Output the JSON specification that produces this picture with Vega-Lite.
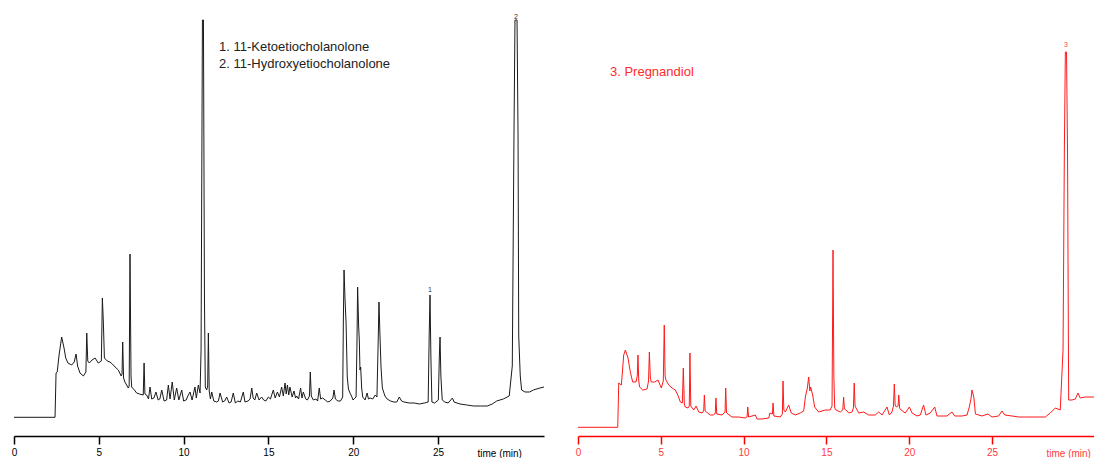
{
  "$schema": "https://vega.github.io/schema/vega-lite/v6.json",
  "padding": {"left": 11, "top": 6, "right": 0, "bottom": 0},
  "background": "white",
  "spacing": 29,
  "config": {"view": {"stroke": null}, "axis": {"grid": false}, "font": "Liberation Sans"},
  "datasets": {
    "left": [
      {"t": 0, "s": 18.7}, {"t": 2.42, "s": 18.7}, {"t": 2.48, "s": 63}, {"t": 2.55, "s": 64}, {"t": 2.65, "s": 80},
      {"t": 2.81, "s": 99}, {"t": 2.95, "s": 88}, {"t": 3.05, "s": 78}, {"t": 3.18, "s": 73}, {"t": 3.4, "s": 71},
      {"t": 3.55, "s": 74}, {"t": 3.66, "s": 82}, {"t": 3.75, "s": 70}, {"t": 3.89, "s": 63}, {"t": 4.09, "s": 60},
      {"t": 4.24, "s": 64}, {"t": 4.29, "s": 103}, {"t": 4.35, "s": 75}, {"t": 4.44, "s": 73}, {"t": 4.6, "s": 76},
      {"t": 4.78, "s": 78}, {"t": 4.97, "s": 73}, {"t": 5.15, "s": 75}, {"t": 5.21, "s": 138}, {"t": 5.27, "s": 113},
      {"t": 5.33, "s": 78}, {"t": 5.5, "s": 75}, {"t": 5.66, "s": 74}, {"t": 5.8, "s": 72}, {"t": 5.96, "s": 69},
      {"t": 6.15, "s": 66}, {"t": 6.32, "s": 60}, {"t": 6.37, "s": 62}, {"t": 6.41, "s": 94}, {"t": 6.46, "s": 58},
      {"t": 6.54, "s": 54}, {"t": 6.74, "s": 48}, {"t": 6.79, "s": 50}, {"t": 6.84, "s": 182}, {"t": 6.9, "s": 60},
      {"t": 6.94, "s": 49}, {"t": 7.1, "s": 46}, {"t": 7.23, "s": 43}, {"t": 7.4, "s": 42}, {"t": 7.62, "s": 41},
      {"t": 7.67, "s": 73}, {"t": 7.72, "s": 42}, {"t": 7.82, "s": 41}, {"t": 7.93, "s": 37}, {"t": 8.02, "s": 49},
      {"t": 8.12, "s": 37}, {"t": 8.25, "s": 38}, {"t": 8.37, "s": 44}, {"t": 8.5, "s": 36}, {"t": 8.6, "s": 37},
      {"t": 8.71, "s": 46}, {"t": 8.85, "s": 35}, {"t": 9.0, "s": 36}, {"t": 9.1, "s": 51}, {"t": 9.2, "s": 37},
      {"t": 9.33, "s": 54}, {"t": 9.45, "s": 36}, {"t": 9.59, "s": 48}, {"t": 9.72, "s": 36}, {"t": 9.89, "s": 46},
      {"t": 10.0, "s": 35}, {"t": 10.15, "s": 36}, {"t": 10.25, "s": 40}, {"t": 10.38, "s": 44}, {"t": 10.5, "s": 36},
      {"t": 10.67, "s": 49}, {"t": 10.75, "s": 38}, {"t": 10.87, "s": 51}, {"t": 10.97, "s": 43}, {"t": 11.03, "s": 86},
      {"t": 11.11, "s": 416}, {"t": 11.17, "s": 416}, {"t": 11.23, "s": 136}, {"t": 11.28, "s": 49}, {"t": 11.36, "s": 46},
      {"t": 11.42, "s": 50}, {"t": 11.46, "s": 103}, {"t": 11.51, "s": 45}, {"t": 11.58, "s": 37}, {"t": 11.66, "s": 44},
      {"t": 11.78, "s": 35}, {"t": 11.95, "s": 34}, {"t": 12.05, "s": 35}, {"t": 12.15, "s": 43}, {"t": 12.3, "s": 34},
      {"t": 12.42, "s": 35}, {"t": 12.54, "s": 39}, {"t": 12.68, "s": 33}, {"t": 12.8, "s": 34}, {"t": 12.93, "s": 43},
      {"t": 13.05, "s": 33}, {"t": 13.2, "s": 35}, {"t": 13.35, "s": 34}, {"t": 13.52, "s": 44}, {"t": 13.62, "s": 34},
      {"t": 13.8, "s": 35}, {"t": 13.92, "s": 37}, {"t": 14.02, "s": 48}, {"t": 14.1, "s": 38}, {"t": 14.2, "s": 36},
      {"t": 14.31, "s": 43}, {"t": 14.45, "s": 36}, {"t": 14.6, "s": 39}, {"t": 14.72, "s": 36}, {"t": 14.85, "s": 35},
      {"t": 15.0, "s": 39}, {"t": 15.12, "s": 37}, {"t": 15.29, "s": 46}, {"t": 15.4, "s": 38}, {"t": 15.53, "s": 44},
      {"t": 15.65, "s": 39}, {"t": 15.78, "s": 49}, {"t": 15.88, "s": 40}, {"t": 15.98, "s": 53}, {"t": 16.05, "s": 42},
      {"t": 16.12, "s": 51}, {"t": 16.2, "s": 41}, {"t": 16.27, "s": 49}, {"t": 16.4, "s": 39}, {"t": 16.51, "s": 45},
      {"t": 16.6, "s": 38}, {"t": 16.67, "s": 40}, {"t": 16.78, "s": 37}, {"t": 16.9, "s": 48}, {"t": 16.98, "s": 38},
      {"t": 17.06, "s": 44}, {"t": 17.2, "s": 37}, {"t": 17.3, "s": 36}, {"t": 17.42, "s": 40}, {"t": 17.47, "s": 64},
      {"t": 17.53, "s": 40}, {"t": 17.65, "s": 36}, {"t": 17.8, "s": 37}, {"t": 17.9, "s": 35}, {"t": 18.0, "s": 48},
      {"t": 18.08, "s": 37}, {"t": 18.2, "s": 38}, {"t": 18.35, "s": 36}, {"t": 18.5, "s": 34}, {"t": 18.65, "s": 35},
      {"t": 18.8, "s": 38}, {"t": 18.87, "s": 46}, {"t": 18.95, "s": 37}, {"t": 19.1, "s": 35}, {"t": 19.25, "s": 35},
      {"t": 19.38, "s": 39}, {"t": 19.42, "s": 116}, {"t": 19.46, "s": 166}, {"t": 19.52, "s": 136}, {"t": 19.58, "s": 113},
      {"t": 19.65, "s": 59}, {"t": 19.72, "s": 47}, {"t": 19.81, "s": 43}, {"t": 19.9, "s": 40}, {"t": 19.99, "s": 36},
      {"t": 20.1, "s": 38}, {"t": 20.17, "s": 39}, {"t": 20.22, "s": 90}, {"t": 20.26, "s": 149}, {"t": 20.32, "s": 110},
      {"t": 20.36, "s": 96}, {"t": 20.4, "s": 66}, {"t": 20.44, "s": 69}, {"t": 20.5, "s": 48}, {"t": 20.56, "s": 39},
      {"t": 20.7, "s": 36}, {"t": 20.82, "s": 43}, {"t": 20.9, "s": 37}, {"t": 21.0, "s": 38}, {"t": 21.15, "s": 37},
      {"t": 21.3, "s": 41}, {"t": 21.4, "s": 39}, {"t": 21.48, "s": 100}, {"t": 21.52, "s": 134}, {"t": 21.58, "s": 100},
      {"t": 21.64, "s": 69}, {"t": 21.72, "s": 48}, {"t": 21.87, "s": 40}, {"t": 22.0, "s": 37}, {"t": 22.2, "s": 35},
      {"t": 22.4, "s": 34}, {"t": 22.57, "s": 34}, {"t": 22.72, "s": 39}, {"t": 22.85, "s": 35}, {"t": 23.0, "s": 34},
      {"t": 23.3, "s": 33}, {"t": 23.6, "s": 33}, {"t": 23.9, "s": 32}, {"t": 24.2, "s": 33}, {"t": 24.42, "s": 34},
      {"t": 24.48, "s": 100}, {"t": 24.53, "s": 141}, {"t": 24.58, "s": 80}, {"t": 24.64, "s": 34}, {"t": 24.8, "s": 33},
      {"t": 25.02, "s": 36}, {"t": 25.08, "s": 80}, {"t": 25.12, "s": 99}, {"t": 25.17, "s": 60}, {"t": 25.25, "s": 36},
      {"t": 25.4, "s": 34}, {"t": 25.6, "s": 33}, {"t": 25.85, "s": 38}, {"t": 25.95, "s": 34}, {"t": 26.3, "s": 32},
      {"t": 26.7, "s": 31}, {"t": 27.1, "s": 30}, {"t": 27.5, "s": 30}, {"t": 27.9, "s": 30}, {"t": 28.2, "s": 32},
      {"t": 28.46, "s": 35}, {"t": 28.85, "s": 37}, {"t": 29.2, "s": 40}, {"t": 29.38, "s": 70}, {"t": 29.48, "s": 300},
      {"t": 29.54, "s": 416}, {"t": 29.66, "s": 416}, {"t": 29.72, "s": 300}, {"t": 29.76, "s": 100}, {"t": 29.85, "s": 60},
      {"t": 29.93, "s": 46}, {"t": 30.13, "s": 44}, {"t": 30.4, "s": 44}, {"t": 30.62, "s": 46}, {"t": 31.01, "s": 48},
      {"t": 31.25, "s": 49}
    ],
    "right": [
      {"t": 0, "s": 8.7}, {"t": 2.4, "s": 8.7}, {"t": 2.46, "s": 53}, {"t": 2.62, "s": 51}, {"t": 2.76, "s": 81},
      {"t": 2.86, "s": 86}, {"t": 3.02, "s": 78}, {"t": 3.16, "s": 64}, {"t": 3.3, "s": 54}, {"t": 3.5, "s": 54},
      {"t": 3.58, "s": 60}, {"t": 3.62, "s": 81}, {"t": 3.67, "s": 55}, {"t": 3.72, "s": 49}, {"t": 3.91, "s": 46},
      {"t": 4.17, "s": 47}, {"t": 4.26, "s": 55}, {"t": 4.31, "s": 84}, {"t": 4.37, "s": 58}, {"t": 4.43, "s": 54},
      {"t": 4.63, "s": 54}, {"t": 4.83, "s": 56}, {"t": 5.03, "s": 48}, {"t": 5.15, "s": 55}, {"t": 5.21, "s": 111},
      {"t": 5.26, "s": 60}, {"t": 5.31, "s": 56}, {"t": 5.48, "s": 51}, {"t": 5.68, "s": 48}, {"t": 5.88, "s": 46},
      {"t": 6.05, "s": 40}, {"t": 6.18, "s": 34}, {"t": 6.3, "s": 33}, {"t": 6.36, "s": 68}, {"t": 6.42, "s": 32},
      {"t": 6.48, "s": 29}, {"t": 6.64, "s": 28}, {"t": 6.72, "s": 30}, {"t": 6.76, "s": 83}, {"t": 6.81, "s": 30},
      {"t": 6.99, "s": 26}, {"t": 7.13, "s": 30}, {"t": 7.29, "s": 24}, {"t": 7.49, "s": 23}, {"t": 7.59, "s": 25},
      {"t": 7.63, "s": 41}, {"t": 7.68, "s": 25}, {"t": 7.99, "s": 21}, {"t": 8.19, "s": 21}, {"t": 8.29, "s": 23},
      {"t": 8.33, "s": 38}, {"t": 8.38, "s": 22}, {"t": 8.7, "s": 21}, {"t": 8.88, "s": 24}, {"t": 8.92, "s": 48},
      {"t": 8.97, "s": 23}, {"t": 9.3, "s": 19}, {"t": 9.7, "s": 19}, {"t": 10.1, "s": 18}, {"t": 10.21, "s": 19},
      {"t": 10.25, "s": 29}, {"t": 10.3, "s": 19}, {"t": 10.71, "s": 21}, {"t": 10.81, "s": 17}, {"t": 11.11, "s": 17},
      {"t": 11.52, "s": 18}, {"t": 11.59, "s": 23}, {"t": 11.74, "s": 22}, {"t": 11.78, "s": 33}, {"t": 11.83, "s": 20},
      {"t": 12.21, "s": 19}, {"t": 12.34, "s": 22}, {"t": 12.38, "s": 55}, {"t": 12.43, "s": 26}, {"t": 12.52, "s": 24},
      {"t": 12.72, "s": 31}, {"t": 12.88, "s": 23}, {"t": 13.12, "s": 21}, {"t": 13.42, "s": 23}, {"t": 13.63, "s": 25},
      {"t": 13.73, "s": 39}, {"t": 13.85, "s": 48}, {"t": 13.93, "s": 59}, {"t": 14.0, "s": 45}, {"t": 14.05, "s": 49},
      {"t": 14.17, "s": 41}, {"t": 14.29, "s": 29}, {"t": 14.53, "s": 24}, {"t": 14.93, "s": 26}, {"t": 15.23, "s": 26},
      {"t": 15.34, "s": 30}, {"t": 15.4, "s": 186}, {"t": 15.45, "s": 60}, {"t": 15.5, "s": 28}, {"t": 15.58, "s": 26},
      {"t": 15.84, "s": 24}, {"t": 15.99, "s": 26}, {"t": 16.04, "s": 39}, {"t": 16.09, "s": 27}, {"t": 16.18, "s": 26},
      {"t": 16.35, "s": 23}, {"t": 16.55, "s": 24}, {"t": 16.63, "s": 28}, {"t": 16.68, "s": 53}, {"t": 16.73, "s": 30},
      {"t": 16.79, "s": 28}, {"t": 16.95, "s": 23}, {"t": 17.25, "s": 24}, {"t": 17.55, "s": 21}, {"t": 17.95, "s": 21},
      {"t": 18.16, "s": 24}, {"t": 18.36, "s": 21}, {"t": 18.66, "s": 29}, {"t": 18.8, "s": 21}, {"t": 18.96, "s": 24},
      {"t": 19.05, "s": 30}, {"t": 19.1, "s": 52}, {"t": 19.15, "s": 31}, {"t": 19.22, "s": 29}, {"t": 19.33, "s": 30},
      {"t": 19.37, "s": 41}, {"t": 19.42, "s": 28}, {"t": 19.51, "s": 26}, {"t": 19.76, "s": 23}, {"t": 20.01, "s": 29},
      {"t": 20.17, "s": 23}, {"t": 20.47, "s": 20}, {"t": 20.67, "s": 21}, {"t": 20.87, "s": 31}, {"t": 21.01, "s": 21},
      {"t": 21.27, "s": 23}, {"t": 21.54, "s": 29}, {"t": 21.68, "s": 20}, {"t": 21.98, "s": 20}, {"t": 22.28, "s": 20},
      {"t": 22.58, "s": 24}, {"t": 22.75, "s": 20}, {"t": 23.19, "s": 20}, {"t": 23.49, "s": 21}, {"t": 23.63, "s": 29},
      {"t": 23.74, "s": 38}, {"t": 23.79, "s": 46}, {"t": 23.9, "s": 39}, {"t": 24.0, "s": 22}, {"t": 24.4, "s": 20},
      {"t": 24.76, "s": 22}, {"t": 25.0, "s": 19}, {"t": 25.4, "s": 20}, {"t": 25.6, "s": 25}, {"t": 25.77, "s": 21},
      {"t": 26.21, "s": 20}, {"t": 26.61, "s": 19}, {"t": 27.01, "s": 19}, {"t": 27.42, "s": 19}, {"t": 27.82, "s": 19},
      {"t": 28.22, "s": 19}, {"t": 28.52, "s": 23}, {"t": 28.82, "s": 28}, {"t": 29.12, "s": 26}, {"t": 29.29, "s": 86},
      {"t": 29.37, "s": 286}, {"t": 29.43, "s": 384}, {"t": 29.5, "s": 384}, {"t": 29.56, "s": 286}, {"t": 29.63, "s": 36},
      {"t": 29.83, "s": 36}, {"t": 30.03, "s": 37}, {"t": 30.19, "s": 43}, {"t": 30.33, "s": 38}, {"t": 30.63, "s": 39},
      {"t": 31.24, "s": 39}
    ],
    "leftText": [
      {"t": 12.09, "s": 389, "label": "1. 11-Ketoetiocholanolone"},
      {"t": 12.09, "s": 372, "label": "2. 11-Hydroxyetiocholanolone"}
    ],
    "leftPeaks": [
      {"t": 24.53, "s": 146, "label": "1"},
      {"t": 29.6, "s": 419, "label": "2"}
    ],
    "rightText": [
      {"t": 1.93, "s": 364, "label": "3. Pregnandiol"}
    ],
    "rightPeaks": [
      {"t": 29.47, "s": 391, "label": "3"}
    ]
  },
  "hconcat": [
    {
      "width": 530,
      "height": 430,
      "layer": [
        {
          "data": {"name": "left"},
          "mark": {"type": "line", "color": "#1a1a1a", "strokeWidth": 1},
          "encoding": {
            "x": {
              "field": "t", "type": "quantitative",
              "scale": {"domain": [0, 31.25], "nice": false, "zero": false},
              "axis": {
                "values": [0, 5, 10, 15, 20, 25], "grid": false,
                "domainColor": "#000000", "domainWidth": 1.5,
                "tickColor": "#000000", "tickWidth": 1.5, "tickSize": 8,
                "labelFontSize": 10, "labelColor": "#000000", "labelPadding": 3, "labelFlush": false,
                "title": "time (min)", "titleFontSize": 10, "titleFontWeight": "normal", "titleColor": "#000000",
                "titleAlign": "left", "titleBaseline": "middle", "titleX": 463, "titleY": 17
              }
            },
            "y": {"field": "s", "type": "quantitative", "scale": {"domain": [0, 430], "nice": false}, "axis": null}
          }
        },
        {
          "data": {"name": "leftText"},
          "mark": {"type": "text", "align": "left", "baseline": "middle", "fontSize": 13, "color": "#222222"},
          "encoding": {
            "x": {"field": "t", "type": "quantitative"},
            "y": {"field": "s", "type": "quantitative"},
            "text": {"field": "label"}
          }
        },
        {
          "data": {"name": "leftPeaks"},
          "mark": {"type": "text", "align": "center", "baseline": "middle", "fontSize": 7, "color": "#333333"},
          "encoding": {
            "x": {"field": "t", "type": "quantitative"},
            "y": {"field": "s", "type": "quantitative"},
            "text": {"field": "label"}
          }
        }
      ]
    },
    {
      "width": 518,
      "height": 430,
      "layer": [
        {
          "data": {"name": "right"},
          "mark": {"type": "line", "color": "#ff1a1a", "strokeWidth": 1},
          "encoding": {
            "x": {
              "field": "t", "type": "quantitative",
              "scale": {"domain": [0, 31.28], "nice": false, "zero": false},
              "axis": {
                "values": [0, 5, 10, 15, 20, 25], "grid": false,
                "domainColor": "#ff0000", "domainWidth": 1.5,
                "tickColor": "#ff0000", "tickWidth": 1.5, "tickSize": 8,
                "labelFontSize": 10, "labelColor": "#ff3b3b", "labelPadding": 3, "labelFlush": false,
                "title": "time (min)", "titleFontSize": 10, "titleFontWeight": "normal", "titleColor": "#ff3b3b",
                "titleAlign": "left", "titleBaseline": "middle", "titleX": 468, "titleY": 17
              }
            },
            "y": {"field": "s", "type": "quantitative", "scale": {"domain": [0, 430], "nice": false}, "axis": null}
          }
        },
        {
          "data": {"name": "rightText"},
          "mark": {"type": "text", "align": "left", "baseline": "middle", "fontSize": 13, "color": "#ff2a2a"},
          "encoding": {
            "x": {"field": "t", "type": "quantitative"},
            "y": {"field": "s", "type": "quantitative"},
            "text": {"field": "label"}
          }
        },
        {
          "data": {"name": "rightPeaks"},
          "mark": {"type": "text", "align": "center", "baseline": "middle", "fontSize": 7, "color": "#ff4040"},
          "encoding": {
            "x": {"field": "t", "type": "quantitative"},
            "y": {"field": "s", "type": "quantitative"},
            "text": {"field": "label"}
          }
        }
      ]
    }
  ]
}
